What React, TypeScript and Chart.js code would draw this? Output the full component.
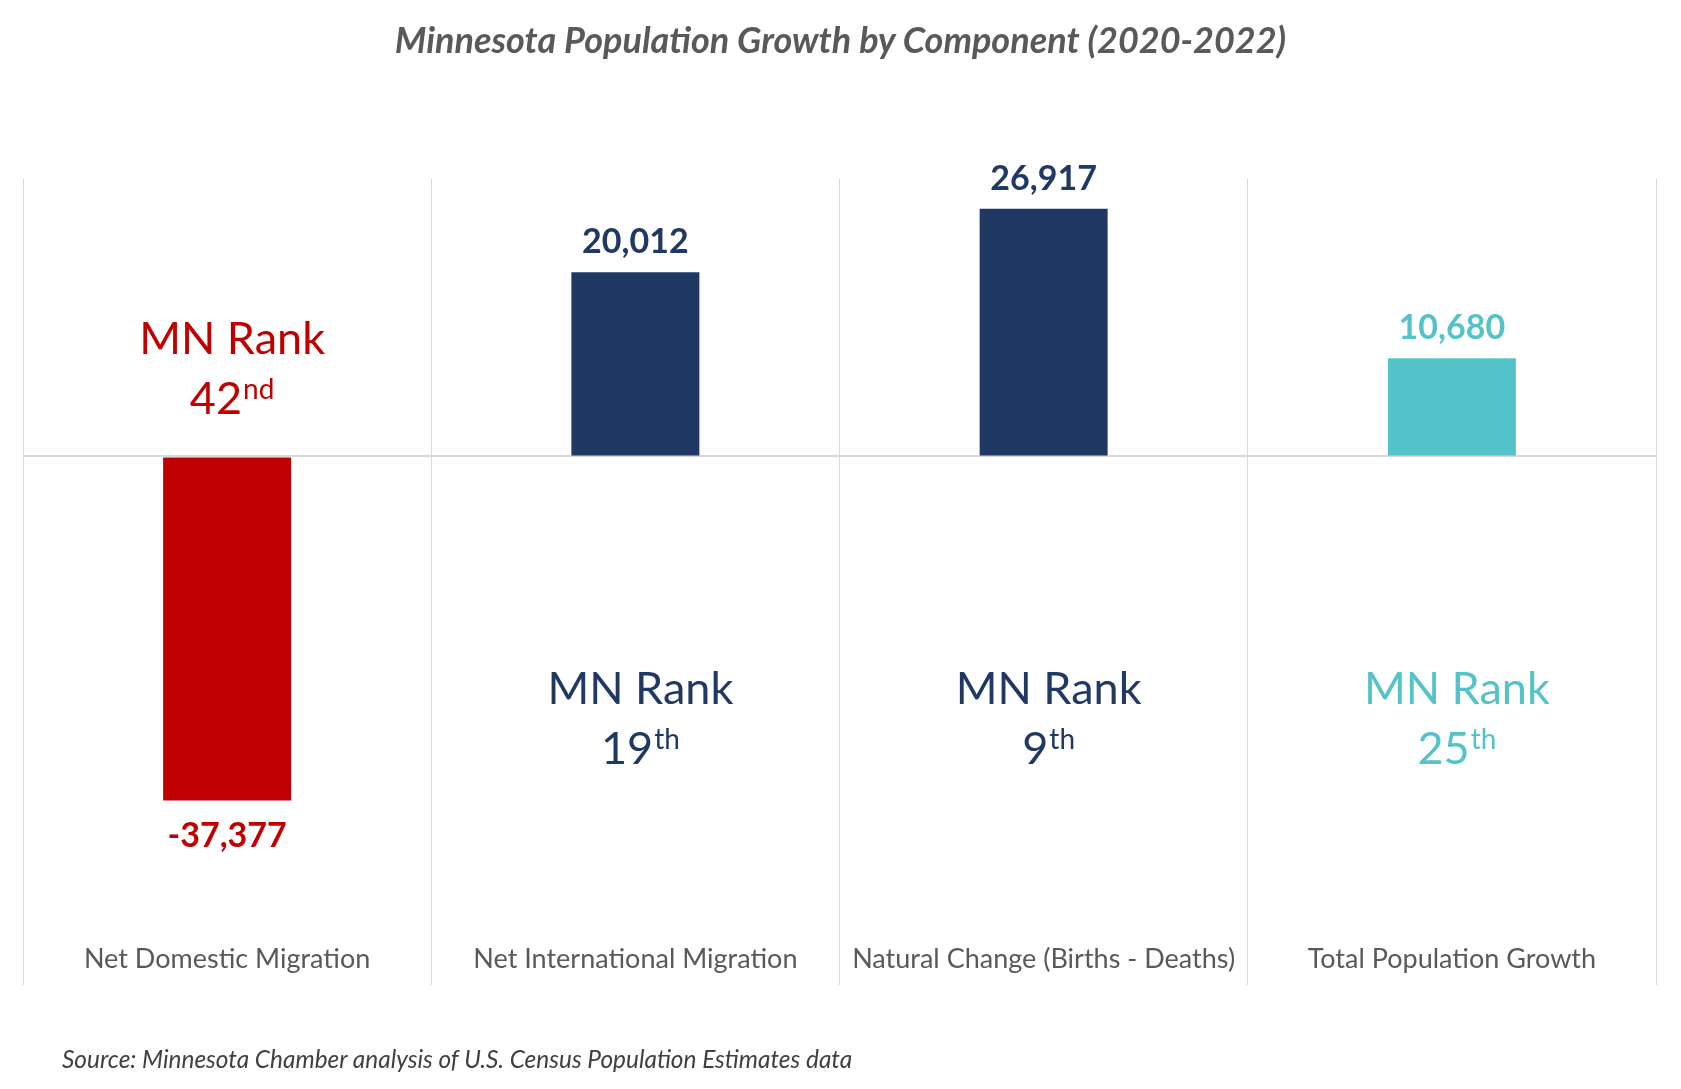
import React, { useEffect, useRef } from 'react';
import { Chart, registerables } from 'chart.js';

Chart.register(...registerables);

// ---------- data ----------
const categories = [
  'Net Domestic Migration',
  'Net International Migration',
  'Natural Change (Births - Deaths)',
  'Total Population Growth',
];
const values = [-37377, 20012, 26917, 10680];
const ranks = ['42', '19', '9', '25'];
const rankSuffixes = ['nd', 'th', 'th', 'th'];
const yMin = -52000;
const yMax = 30150;
const yGridValues = [0];

const titleText = 'Minnesota Population Growth by Component (2020-2022)';
const sourceText = 'Source: Minnesota Chamber analysis of U.S. Census Population Estimates data';

// ---------- styles ----------
const barColors = ['#C00000', '#203864', '#203864', '#53C3C9'];
const FONT = 'Lato, "Open Sans", sans-serif';
const VALUE_FONT = 34;
const RANK_FONT = 45;
const SUP_FONT = 28;

const labelPlugin = {
  id: 'barLabels',
  afterDatasetsDraw(chart: any) {
    const ctx = chart.ctx as CanvasRenderingContext2D;
    const meta = chart.getDatasetMeta(0);
    const zeroY = chart.scales.y.getPixelForValue(0);
    meta.data.forEach((bar: any, i: number) => {
      const v = values[i];
      const color = barColors[i];
      ctx.save();
      ctx.fillStyle = color;
      ctx.textBaseline = 'alphabetic';
      ctx.textAlign = 'center';
      ctx.font = `bold ${VALUE_FONT}px ${FONT}`;
      const txt = v.toLocaleString('en-US');
      if (v >= 0) ctx.fillText(txt, bar.x, bar.y - 19);
      else ctx.fillText(txt, bar.x, bar.y + 47);

      const cx = bar.x + 5;
      const base1 = v < 0 ? zeroY - 102 : zeroY + 248;
      const base2 = base1 + 60;
      ctx.font = `${RANK_FONT}px ${FONT}`;
      ctx.fillText('MN Rank', cx, base1);
      const mainFont = `${RANK_FONT}px ${FONT}`;
      const supFont = `${SUP_FONT}px ${FONT}`;
      ctx.font = mainFont;
      const w1 = ctx.measureText(ranks[i]).width;
      ctx.font = supFont;
      const w2 = ctx.measureText(rankSuffixes[i]).width;
      const start = cx - (w1 + w2 + 1) / 2;
      ctx.textAlign = 'left';
      ctx.font = mainFont;
      ctx.fillText(ranks[i], start, base2);
      ctx.font = supFont;
      ctx.fillText(rankSuffixes[i], start + w1 + 1, base2 - 15);
      ctx.restore();
    });
  },
};

export default function App() {
  const canvasRef = useRef<HTMLCanvasElement>(null);

  useEffect(() => {
    document.body.style.margin = '0';
    const canvas = canvasRef.current;
    if (!canvas) return;
    const chart = new Chart(canvas, {
      type: 'bar',
      data: {
        labels: categories,
        datasets: [
          {
            data: values,
            backgroundColor: barColors,
            borderWidth: 0,
            barPercentage: 0.3135,
            categoryPercentage: 1,
          },
        ],
      },
      options: {
        responsive: false,
        animation: false,
        layout: { padding: { left: 23, right: 25, top: 179, bottom: 94 } },
        plugins: {
          legend: { display: false },
          tooltip: { enabled: false },
          title: { display: false },
        },
        scales: {
          x: {
            grid: {
              color: '#D9D9D9',
              lineWidth: 1,
              offset: true,
              drawTicks: true,
              tickLength: 50,
              tickColor: '#D9D9D9',
            },
            border: { display: false },
            ticks: {
              padding: -42,
              color: '#595959',
              font: { family: FONT, size: 27 },
              maxRotation: 0,
              autoSkip: false,
            },
            afterFit: (s: any) => {
              s.height = 60;
            },
          },
          y: {
            min: yMin,
            max: yMax,
            afterBuildTicks: (s: any) => {
              s.ticks = yGridValues.map((value) => ({ value }));
            },
            ticks: { display: false },
            border: { display: false },
            grid: {
              drawTicks: false,
              color: '#D9D9D9',
              lineWidth: 2,
            },
          },
        },
      },
      plugins: [labelPlugin],
    });
    return () => chart.destroy();
  }, []);

  return (
    <div style={{ position: 'relative', width: 1681, height: 1089, background: '#fff', overflow: 'hidden' }}>
      <canvas ref={canvasRef} width={1681} height={1089} style={{ display: 'block' }} />
      <div
        style={{
          position: 'absolute',
          left: 0,
          top: 19,
          width: 1681,
          height: 40,
          lineHeight: '40px',
          textAlign: 'center',
          fontFamily: FONT,
          fontStyle: 'italic',
          fontWeight: 'bold',
          fontSize: 36,
          color: '#595959',
        }}
      >
        {titleText}
      </div>
      <div
        style={{
          position: 'absolute',
          left: 62,
          top: 1044,
          height: 30,
          lineHeight: '30px',
          fontFamily: FONT,
          fontStyle: 'italic',
          fontSize: 24.4,
          color: '#404040',
          whiteSpace: 'nowrap',
        }}
      >
        {sourceText}
      </div>
    </div>
  );
}
